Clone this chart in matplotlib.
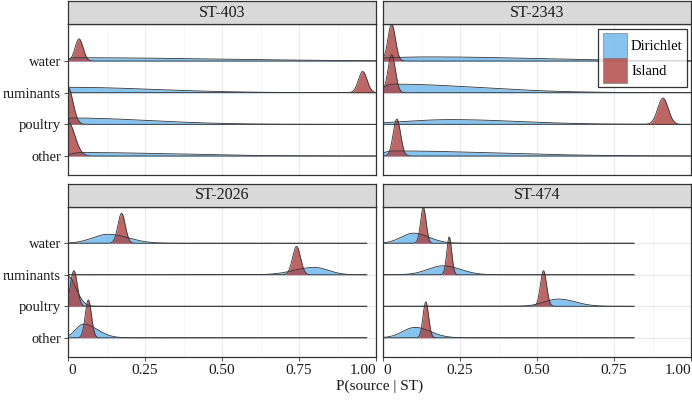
import numpy as np
import matplotlib.pyplot as plt
from matplotlib.patches import Patch

# =========================
# Data
# =========================
panels = ["ST-403", "ST-2343", "ST-2026", "ST-474"]
sources = ["other", "poultry", "ruminants", "water"]   # bottom -> top
methods = ["Dirichlet", "Island"]
x_max = [1.0, 1.0, 0.97, 0.815]                        # data range per panel

# per panel, per source (other, poultry, ruminants, water)
dir_mode = [[0.04, 0.01, 0.00, 0.02],
            [0.03, 0.22, 0.03, 0.15],
            [0.05, 0.00, 0.80, 0.13],
            [0.104, 0.569, 0.196, 0.099]]
dir_sd_lo = [[0.03, 0.01, 0.01, 0.02],
             [0.03, 0.15, 0.03, 0.20],
             [0.025, 0.01, 0.065, 0.05],
             [0.04, 0.045, 0.05, 0.04]]
dir_sd_hi = [[0.30, 0.25, 0.28, 0.45],
             [0.33, 0.22, 0.28, 0.35],
             [0.045, 0.026, 0.045, 0.065],
             [0.05, 0.055, 0.055, 0.05]]
dir_peak = [[0.11, 0.20, 0.17, 0.105],
            [0.16, 0.15, 0.27, 0.13],
            [0.435, 0.95, 0.235, 0.285],
            [0.33, 0.23, 0.285, 0.32]]

isl_mode = [[0.0, 0.0, 0.957, 0.036],
            [0.045, 0.909, 0.028, 0.028],
            [0.066, 0.019, 0.742, 0.174],
            [0.139, 0.521, 0.215, 0.131]]
isl_sd_lo = [[0.01, 0.01, 0.014, 0.013],
             [0.012, 0.017, 0.012, 0.012],
             [0.010, 0.011, 0.013, 0.012],
             [0.009, 0.010, 0.008, 0.009]]
isl_sd_hi = [[0.022, 0.016, 0.014, 0.013],
             [0.012, 0.017, 0.012, 0.012],
             [0.010, 0.011, 0.013, 0.012],
             [0.009, 0.010, 0.008, 0.009]]
isl_peak = [[1.08, 1.17, 0.67, 0.70],
            [1.165, 0.83, 1.2, 1.17],
            [1.2, 1.13, 0.90, 0.95],
            [1.14, 1.13, 1.2, 1.13]]

x_ticks = [0, 0.25, 0.5, 0.75, 1.0]
x_tick_labels = ["0", "0.25", "0.50", "0.75", "1.00"]

# =========================
# Style
# =========================
plt.rcParams["font.family"] = ["Liberation Serif", "DejaVu Serif"]
plt.rcParams["font.size"] = 11

fill_col = {"Dirichlet": (105 / 255, 180 / 255, 236 / 255),
            "Island": (172 / 255, 64 / 255, 64 / 255)}
ALPHA = 0.8
W, H = 692, 400


def split_normal(x, m, s_lo, s_hi):
    s = np.where(x < m, s_lo, s_hi)
    return np.exp(-0.5 * ((x - m) / s) ** 2)


def px_box(x0, y0, x1, y1):
    return [x0 / W, 1 - y1 / H, (x1 - x0) / W, (y1 - y0) / H]


fig = plt.figure(figsize=(W / 100, H / 100), dpi=100)

col_x = [(68, 376), (383, 691)]
row_y = [(24.3, 175.0, 1.0), (206.7, 356.7, 183.5)]

for p, name in enumerate(panels):
    r, c = divmod(p, 2)
    x0, x1 = col_x[c]
    y0, y1, ys = row_y[r]
    ax = fig.add_axes(px_box(x0, y0, x1, y1))
    sax = fig.add_axes(px_box(x0, ys, x1, y0))

    # strip
    sax.set_facecolor("#d9d9d9")
    sax.set_xticks([])
    sax.set_yticks([])
    for sp in sax.spines.values():
        sp.set_color("#333333")
        sp.set_linewidth(0.9)
    sax.text(0.5, 0.5, name, ha="center", va="center", transform=sax.transAxes,
             fontsize=11.5, color="#1a1a1a")

    # grid
    ax.set_xlim(0, 1)
    ax.set_ylim(0.40, 5.16)
    ax.set_xticks(x_ticks)
    ax.set_xticks([0.125, 0.375, 0.625, 0.875], minor=True)
    ax.set_yticks(range(1, len(sources) + 1))
    ax.grid(True, which="major", color="#ebebeb", lw=0.9, zorder=0)
    ax.grid(True, which="minor", axis="x", color="#f2f2f2", lw=0.5, zorder=0)
    ax.set_axisbelow(True)

    xs = np.linspace(0, x_max[p], 800)
    for si in range(len(sources) - 1, -1, -1):
        base = si + 1
        for meth in methods:
            if meth == "Dirichlet":
                m, lo, hi, pk = dir_mode[p][si], dir_sd_lo[p][si], dir_sd_hi[p][si], dir_peak[p][si]
            else:
                m, lo, hi, pk = isl_mode[p][si], isl_sd_lo[p][si], isl_sd_hi[p][si], isl_peak[p][si]
            yv = base + pk * split_normal(xs, m, lo, hi)
            ax.fill_between(xs, base, yv, color=fill_col[meth], alpha=ALPHA, lw=0, zorder=2)
            ax.plot(xs, yv, color="#333333", lw=0.6, zorder=3)

    # axes styling
    for sp in ax.spines.values():
        sp.set_color("#333333")
        sp.set_linewidth(0.9)
    ax.tick_params(axis="both", which="both", length=0)
    ax.tick_params(axis="y", which="major", length=3, width=0.6, color="#333333", pad=2)
    if c == 0:
        ax.set_yticklabels(sources, fontsize=10.5, color="#1a1a1a")
    else:
        ax.set_yticklabels([])
        ax.tick_params(axis="y", length=0)
    if r == 1:
        ax.tick_params(axis="x", which="major", length=3, width=0.6, color="#333333", pad=2)
        ax.set_xticklabels(x_tick_labels, fontsize=11, color="#1a1a1a")
        labs = ax.get_xticklabels()
        labs[0].set_ha("left")
        labs[-1].set_ha("right")
    else:
        ax.set_xticklabels([])

    if p == 1:
        handles = [Patch(facecolor=fill_col[mm], alpha=ALPHA, edgecolor="#7f7f7f", lw=0.6, label=mm)
                   for mm in methods]
        leg = ax.legend(handles=handles, loc="upper right", bbox_to_anchor=(0.987, 0.97),
                        frameon=True, fancybox=False, fontsize=10.5, handlelength=1.64,
                        handleheight=2.25, labelspacing=0.0, handletextpad=0.3,
                        borderpad=0.3, borderaxespad=0.0)
        leg.get_frame().set_edgecolor("black")
        leg.get_frame().set_linewidth(0.9)

fig.text(379.5 / W, 1 - 386 / H, "P(source | ST)", ha="center", va="center",
         fontsize=11, color="#1a1a1a")

fig.savefig("out.png", dpi=100)
